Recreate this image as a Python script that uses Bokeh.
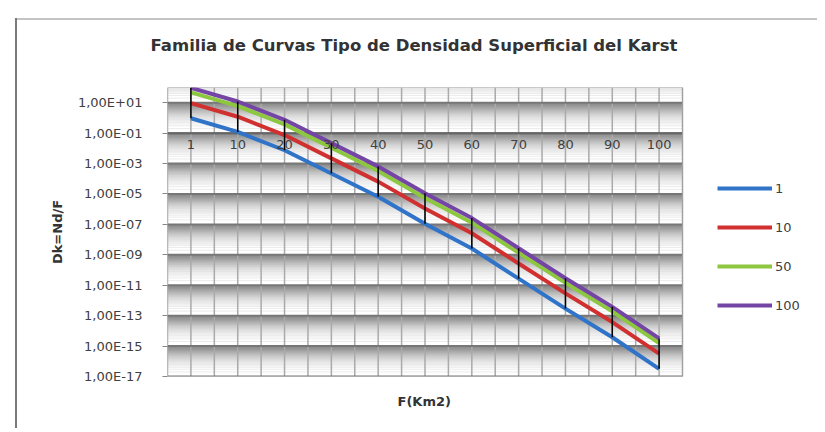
from bokeh.plotting import figure
from bokeh.models import FixedTicker, Legend, LegendItem, Range1d, CustomJSTickFormatter, Title
from bokeh.core.properties import value
from bokeh.embed import file_html
from bokeh.resources import INLINE

# ---- data ----
categories = ["1", "10", "20", "30", "40", "50", "60", "70", "80", "90", "100"]
series_names = ["1", "10", "50", "100"]
dk_nd1 = [0.95, 1.2e-1, 7.5e-3, 2.2e-4, 6.5e-6, 1.1e-7, 2.6e-9, 2.7e-11, 2.9e-13, 3.8e-15, 3.2e-17]
dk_nd10 = [9.5, 1.2, 7.5e-2, 2.2e-3, 6.5e-5, 1.1e-6, 2.6e-8, 2.7e-10, 2.9e-12, 3.8e-14, 3.2e-16]
dk_nd50 = [47.5, 6.0, 3.75e-1, 1.1e-2, 3.25e-4, 5.5e-6, 1.3e-7, 1.35e-9, 1.45e-11, 1.9e-13, 1.6e-15]
dk_nd100 = [95, 12, 7.5e-1, 2.2e-2, 6.5e-4, 1.1e-5, 2.6e-7, 2.7e-9, 2.9e-11, 3.8e-13, 3.2e-15]
y_tick_values = [1e1, 1e-1, 1e-3, 1e-5, 1e-7, 1e-9, 1e-11, 1e-13, 1e-15, 1e-17]
y_tick_labels = ["1,00E+01", "1,00E-01", "1,00E-03", "1,00E-05", "1,00E-07",
                 "1,00E-09", "1,00E-11", "1,00E-13", "1,00E-15", "1,00E-17"]
series_colors = ["#2f74c8", "#d03030", "#8dc63f", "#7445a4"]

FONT = "DejaVu Sans"
TXT = "#404040"

NCAT = len(categories)
Y0, Y1 = 1e-17, 1e2
PLOT_W, FRAME_W = 515, 641          # plot-area width vs. frame width (legend lives in the extra room)
xs = [i + 0.5 for i in range(NCAT)]
series = [dk_nd1, dk_nd10, dk_nd50, dk_nd100]

p = figure(width=817, height=428, output_backend="svg", toolbar_location=None,
           x_axis_location=None,
           y_axis_type="log", x_range=Range1d(0, NCAT * FRAME_W / PLOT_W), y_range=Range1d(Y0, Y1),
           min_border_left=167, min_border_right=9, min_border_top=87, min_border_bottom=52)
# chart-area border (left and top edges) drawn behind the transparent canvas margin
p.styles = {
    "background-color": "white",
    "background-image": "linear-gradient(#7a7a7a, #7a7a7a), linear-gradient(#c4c4c4, #c4c4c4)",
    "background-size": "2px 100%, 100% 2px",
    "background-position": "15px 18px, 15px 18px",
    "background-repeat": "no-repeat",
}
p.background_fill_color = "white"
p.border_fill_alpha = 0
p.outline_line_color = None
p.xgrid.grid_line_color = None
p.ygrid.grid_line_color = None

# title
p.title.text = "Familia de Curvas Tipo de Densidad Superficial del Karst"
p.title.align = "left"
p.title.offset = -17
p.title.text_font = FONT
p.title.text_font_size = "16.5px"
p.title.text_font_style = "bold"
p.title.text_color = "#333333"
p.title.standoff = 66

yax = p.yaxis[0]
yax.ticker = FixedTicker(ticks=y_tick_values)
yax.formatter = CustomJSTickFormatter(args=dict(vals=y_tick_values, labels=y_tick_labels), code="""
const i = vals.findIndex(v => Math.abs(Math.log10(v) - Math.log10(tick)) < 1e-6);
return i >= 0 ? labels[i] : '';
""")
yax.axis_label = "Dk=Nd/F"
yax.axis_label_text_font = FONT
yax.axis_label_text_font_size = "13px"
yax.axis_label_text_font_style = "bold"
yax.axis_label_text_color = "#333333"
yax.axis_label_standoff = 10
yax.major_label_text_font = FONT
yax.major_label_text_font_size = "13px"
yax.major_label_text_color = TXT
yax.major_label_standoff = 20
yax.major_tick_out = 5
yax.major_tick_in = 0
yax.minor_tick_out = 0
yax.minor_tick_in = 0
yax.axis_line_color = None
yax.major_tick_line_color = "#888888"

# x-axis title, centred under the plot area
xtitle = Title(text="F(Km2)", align="left", offset=230, standoff=30,
               text_font=FONT, text_font_size="13px", text_font_style="bold", text_color="#333333")
p.add_layout(xtitle, "below")

# ---- plot-area grid (log base 100 style minor grid) ----
minor = []
for e in range(-17, 1, 2):
    for k in range(2, 100):
        minor.append(k * 10.0 ** e)
for k in range(2, 11):
    minor.append(k * 10.0)
p.segment(x0=[0] * len(minor), x1=[NCAT] * len(minor), y0=minor, y1=minor,
          line_color="#8a8a8a", line_alpha=0.17, line_width=1)
vgrid = [i * 0.5 for i in range(2 * NCAT + 1)]
p.segment(x0=vgrid, x1=vgrid, y0=[Y0] * len(vgrid), y1=[Y1] * len(vgrid),
          line_color="#aaaaaa", line_width=1.5)
p.segment(x0=[0] * len(y_tick_values), x1=[NCAT] * len(y_tick_values), y0=y_tick_values, y1=y_tick_values,
          line_color="#777777", line_width=2)
# horizontal axis line crossing at 1,00E-01
p.segment(x0=[0], x1=[NCAT], y0=[1e-1], y1=[1e-1], line_color="#666666", line_width=2)
p.quad(left=[0], right=[NCAT], bottom=[Y0], top=[Y1], fill_color=None, line_color="#a0a0a0", line_width=1)

# series
items = []
for name, vals, col in zip(series_names, series, series_colors):
    r = p.line(xs, vals, line_color=col, line_width=4)
    items.append(LegendItem(label=name, renderers=[r]))

# high-low lines
p.segment(x0=xs, y0=dk_nd1, x1=xs, y1=dk_nd100, line_color="black", line_width=1.5)

# category labels on the crossing axis
p.text(x=xs, y=[1e-1] * NCAT, text=categories, text_align="center", text_baseline="top",
       y_offset=7, text_font=value(FONT), text_font_size="13px", text_color=TXT)

legend = Legend(items=items, location=(550, 61), padding=5, spacing=19, margin=0,
                glyph_width=55, glyph_height=20, label_height=20, label_standoff=3,
                border_line_color=None, background_fill_alpha=0,
                label_text_font=FONT, label_text_font_size="13px", label_text_color=TXT)
p.add_layout(legend, "center")

open("out.html", "w").write(file_html(p, INLINE))
